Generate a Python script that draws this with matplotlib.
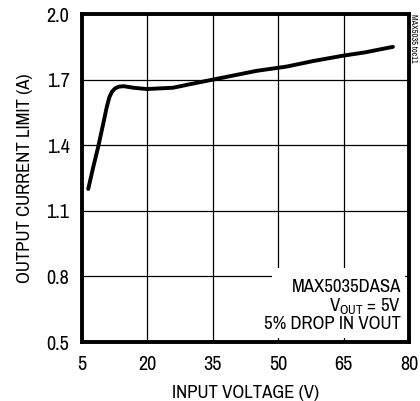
import matplotlib.pyplot as plt
from matplotlib import font_manager
from matplotlib.patches import Rectangle

names = sorted(set(f.name for f in font_manager.fontManager.ttflist))
narrow = [n for n in names if 'Narrow' in n or 'Condensed' in n]

plt.rcParams['font.family'] = (narrow[:1] if narrow else []) + ['DejaVu Sans']
if not narrow:
    plt.rcParams['font.stretch'] = 'condensed'

# curve
vin = [6.45, 7.6, 8.7, 9.8, 10.7, 11.3, 11.9, 12.6, 13.5, 14.6, 16.8, 19.8, 25.9, 30, 35, 40, 45, 52, 58, 65, 70, 76.3]
ilim = [1.20, 1.30, 1.39, 1.49, 1.575, 1.62, 1.645, 1.66, 1.668, 1.67, 1.663, 1.657, 1.663, 1.68, 1.70, 1.72, 1.74, 1.76, 1.785, 1.81, 1.825, 1.85]

xticks = [5, 20, 35, 50, 65, 80]
yticks = [0.5, 0.8, 1.1, 1.4, 1.7, 2.0]

fig = plt.figure(figsize=(4.2, 4.01), dpi=100)
ax = fig.add_axes([0.195, 0.147, 0.779, 0.818])

ax.plot(vin, ilim, color='black', lw=2.8, solid_capstyle='round', zorder=3)

ax.set_xlim(5, 80)
ax.set_ylim(0.5, 2.0)
ax.set_xticks(xticks)
ax.set_yticks(yticks)
ax.set_xticklabels([str(t) for t in xticks])
ax.set_yticklabels(['%.1f' % t for t in yticks])
ax.grid(True, color='black', lw=0.9)
ax.set_axisbelow(True)
ax.tick_params(length=0, labelsize=14.5)
ax.tick_params(axis='x', pad=9)
ax.tick_params(axis='y', pad=9)
for s in ax.spines.values():
    s.set_linewidth(2.8)
    s.set_zorder(4)

ax.set_xlabel('INPUT VOLTAGE (V)', fontsize=13.5, labelpad=8)
ax.set_ylabel('OUTPUT CURRENT LIMIT (A)', fontsize=13.5, labelpad=10)

# white box behind the note hides the grid lines
ax.add_patch(Rectangle((0.581, 0.012), 0.407, 0.214, transform=ax.transAxes,
                       facecolor='white', edgecolor='none', zorder=1.5))
ax.text(0.975, 0.03, 'MAX5035DASA\n$\\mathregular{V_{OUT}}$ = 5V\n5% DROP IN VOUT',
        transform=ax.transAxes, ha='right', va='bottom', fontsize=13.5,
        linespacing=1.05, zorder=4)

fig.text(0.985, 0.965, 'MAX5035 toc11', rotation=270, ha='center', va='top', fontsize=6)

plt.savefig('out.png', dpi=100)
